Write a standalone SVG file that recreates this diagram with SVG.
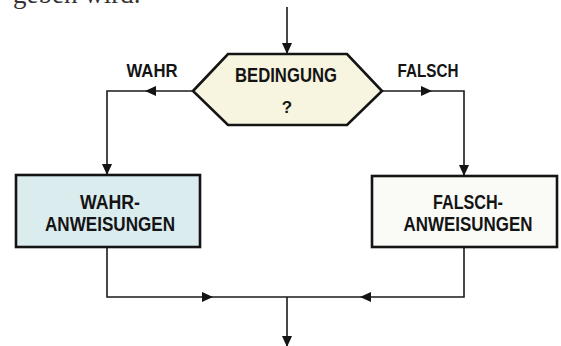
<svg xmlns="http://www.w3.org/2000/svg" width="561" height="346" viewBox="0 0 561 346">
  <style>
    .line { fill: none; stroke: #1a1a1a; stroke-width: 1.6; }
    .shape { stroke: #141414; stroke-width: 2.6; stroke-linejoin: miter; }
    .lbl { font-family: "Liberation Sans", Arial, sans-serif; font-weight: bold; fill: #141414; text-anchor: middle; }
    .prose { font-family: "Liberation Serif", "DejaVu Serif", serif; fill: #333; font-size: 27px; }
  </style>
  <defs>
    <marker id="arr" viewBox="0 0 12 12" refX="12" refY="6" markerWidth="12" markerHeight="11" markerUnits="userSpaceOnUse" orient="auto">
      <path d="M0,0.5 L12,6 L0,11.5 z" fill="#141414"/>
    </marker>
  </defs>
  <rect width="561" height="346" fill="#ffffff"/>

  <text class="prose" x="13" y="3">geben wird.</text>

  <g id="connectors">
    <path class="line" d="M287,7 L287,54" marker-end="url(#arr)"/>
    <path class="line" d="M193,91 L145,91" marker-end="url(#arr)"/>
    <path class="line" d="M145,91 L107,91 L107,175" marker-end="url(#arr)"/>
    <path class="line" d="M382,91 L432,91" marker-end="url(#arr)"/>
    <path class="line" d="M432,91 L464,91 L464,176" marker-end="url(#arr)"/>
    <path class="line" d="M107,247 L107,297 L213,297" marker-end="url(#arr)"/>
    <path class="line" d="M213,297 L287,297"/>
    <path class="line" d="M464,247 L464,297 L360,297" marker-end="url(#arr)"/>
    <path class="line" d="M360,297 L287,297"/>
    <path class="line" d="M287,297 L287,347" marker-end="url(#arr)"/>
  </g>

  <g id="label-wahr">
    <text class="lbl" x="152" y="77" font-size="17.5" textLength="51" lengthAdjust="spacingAndGlyphs">WAHR</text>
  </g>
  <g id="label-falsch">
    <text class="lbl" x="428" y="77" font-size="17.5" textLength="61" lengthAdjust="spacingAndGlyphs">FALSCH</text>
  </g>

  <g id="bedingung">
    <polygon class="shape" points="193,91 228,54 347,54 382,91 347,125 228,125" fill="#f7f5e0"/>
    <text class="lbl" x="286" y="82" font-size="20" textLength="102" lengthAdjust="spacingAndGlyphs">BEDINGUNG</text>
    <text class="lbl" x="287" y="113" font-size="17">?</text>
  </g>

  <g id="wahr-anweisungen">
    <rect class="shape" x="16" y="175" width="184" height="72" fill="#dbecef"/>
    <text class="lbl" x="110" y="209" font-size="19.5" textLength="60" lengthAdjust="spacingAndGlyphs">WAHR-</text>
    <text class="lbl" x="110" y="231" font-size="19.5" textLength="130" lengthAdjust="spacingAndGlyphs">ANWEISUNGEN</text>
  </g>

  <g id="falsch-anweisungen">
    <rect class="shape" x="372" y="176" width="185" height="71" fill="#fafaf6"/>
    <text class="lbl" x="468" y="209" font-size="19.5" textLength="70" lengthAdjust="spacingAndGlyphs">FALSCH-</text>
    <text class="lbl" x="468" y="231" font-size="19.5" textLength="129" lengthAdjust="spacingAndGlyphs">ANWEISUNGEN</text>
  </g>
</svg>
